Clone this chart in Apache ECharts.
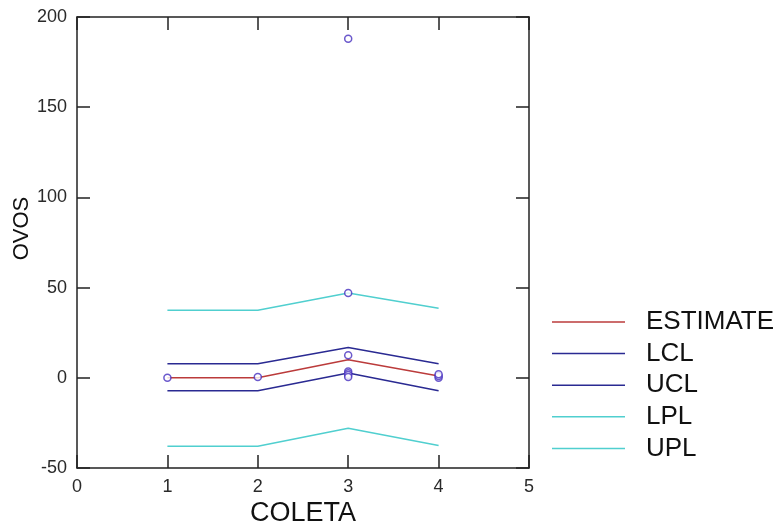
<!DOCTYPE html>
<html>
<head>
<meta charset="utf-8">
<script src="https://cdn.jsdelivr.net/npm/echarts@6/dist/echarts.min.js"></script>
<style>html,body{margin:0;padding:0;background:#fff;}#c{width:781px;height:529px;}</style>
</head>
<body>
<div id="c"></div>
<script>
var coleta = [1, 2, 3, 4];
var estimate = [0, 0, 10, 1];
var lcl = [-7.2, -7.2, 2.6, -7.2];
var ucl = [7.8, 7.8, 16.8, 7.8];
var lpl = [-38, -38, -28, -37.5];
var upl = [37.5, 37.5, 47, 38.5];
var obsX = [1, 2, 3, 3, 3, 3, 3, 3, 3, 4, 4, 4];
var obsY = [0, 0.5, 188, 47, 12.5, 3.5, 2.5, 1.5, 0.5, 0, 1, 2];
var yTicks = [-50, 0, 50, 100, 150, 200];
var legendNames = ['ESTIMATE', 'LCL', 'UCL', 'LPL', 'UPL'];

function pairs(xs, ys) { return xs.map(function (x, i) { return [x, ys[i]]; }); }

var chart = echarts.init(document.getElementById('c'));
var FONT = 'Liberation Sans, Arial, sans-serif';
var tickStyle = { show: true, inside: true, length: 13, lineStyle: { color: '#222', width: 1.5 } };
var lineStyleAxis = { show: true, onZero: false, lineStyle: { color: '#222', width: 1.5 } };
var labelFont = { fontFamily: FONT, fontSize: 18, color: '#2a2a2a' };

function lineSeries(name, data, color) {
  return {
    name: name, type: 'line', data: pairs(coleta, data), symbol: 'none',
    lineStyle: { color: color, width: 1.5 }, itemStyle: { color: color }, z: 2
  };
}

chart.setOption({
  animation: false,
  backgroundColor: '#fff',
  grid: { left: 77, right: 252, top: 17, bottom: 61, containLabel: false, outerBoundsMode: 'none' },
  legend: {
    orient: 'vertical', left: 547, top: 304,
    data: legendNames,
    icon: 'rect', itemWidth: 73, itemHeight: 1.5, itemGap: 5.6,
    textStyle: { fontFamily: FONT, fontSize: 26, lineHeight: 26, color: '#111', padding: [0, 0, 0, 16] }
  },
  xAxis: [{
    type: 'value', min: 0, max: 5, interval: 1, position: 'bottom',
    name: 'COLETA', nameLocation: 'middle', nameGap: 32, nameMoveOverlap: false,
    nameTextStyle: { fontFamily: FONT, fontSize: 27, color: '#111' },
    axisLine: lineStyleAxis, axisTick: tickStyle, splitLine: { show: false },
    axisLabel: Object.assign({ margin: 10 }, labelFont)
  }, {
    type: 'value', min: 0, max: 5, interval: 1, position: 'top',
    axisLine: lineStyleAxis, axisTick: tickStyle, splitLine: { show: false },
    axisLabel: { show: false }
  }],
  yAxis: [{
    type: 'value', min: -50, max: 200, interval: 50, position: 'left',
    name: 'OVOS', nameLocation: 'middle', nameGap: 44, nameRotate: 90, nameMoveOverlap: false,
    nameTextStyle: { fontFamily: FONT, fontSize: 22, color: '#111', padding: [0, 0, 0, 28] },
    axisLine: lineStyleAxis, axisTick: tickStyle, splitLine: { show: false },
    axisLabel: Object.assign({ margin: 10, formatter: function (v) { return yTicks.indexOf(v) >= 0 ? String(v) : ''; } }, labelFont)
  }, {
    type: 'value', min: -50, max: 200, interval: 50, position: 'right',
    axisLine: lineStyleAxis, axisTick: tickStyle, splitLine: { show: false },
    axisLabel: { show: false }
  }],
  series: [
    lineSeries('ESTIMATE', estimate, '#bb3b3b'),
    lineSeries('LCL', lcl, '#2a2a92'),
    lineSeries('UCL', ucl, '#2a2a92'),
    lineSeries('LPL', lpl, '#50cfcf'),
    lineSeries('UPL', upl, '#50cfcf'),
    {
      name: 'obs', type: 'scatter', data: pairs(obsX, obsY),
      symbol: 'circle', symbolSize: 7,
      itemStyle: { color: '#fff', borderColor: '#4630bf', borderWidth: 1.5 }, z: 5
    }
  ]
});
</script>
</body>
</html>
